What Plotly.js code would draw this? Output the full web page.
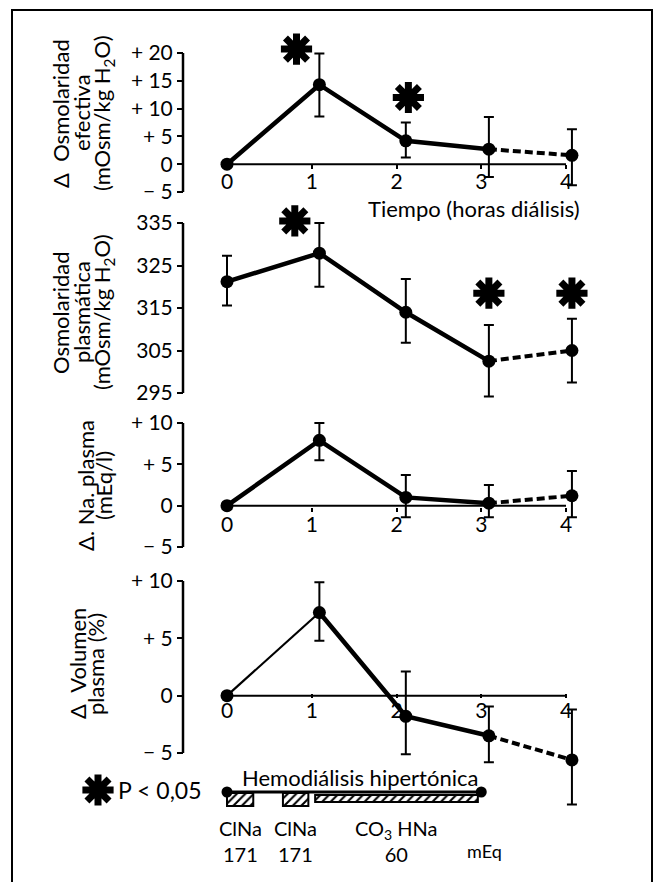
<!DOCTYPE html>
<html><head><meta charset="utf-8">
<script src="https://cdn.plot.ly/plotly-3.0.1.min.js"></script>
<style>html,body{margin:0;padding:0;background:#fff}</style>
</head><body><div id="chart" style="width:659px;height:882px"></div>
<script>
// ---------- data ----------
const hours = [0, 1.09, 2.11, 3.09, 4.07];          // plotted position of each sample (h)
const hourTicks = [0, 1, 2, 3, 4];
const hourTickText = ['0', '1', '2', '3', '4'];

const osmEf   = [0, 14.3, 4.2, 2.7, 1.6];
const osmEfHi = [0, 19.9, 7.5, 8.5, 6.3];
const osmEfLo = [0, 8.6, 1.2, -2.3, -3.8];
const osmEfStarX = [0.82, 2.14];
const osmEfStarY = [20.7, 12.0];
const osmEfTicks = [20, 15, 10, 5, 0, -5];
const osmEfTickText = ['+ 20', '+ 15', '+ 10', '+ 5', '0', '\u2212 5'];

const osmPl   = [321.2, 327.9, 314.0, 302.5, 305.0];
const osmPlHi = [327.3, 335.0, 321.8, 311.0, 312.5];
const osmPlLo = [315.6, 320.0, 306.8, 294.2, 297.5];
const osmPlStarX = [0.8, 3.09, 4.07];
const osmPlStarY = [335.5, 318.5, 318.5];
const osmPlTicks = [335, 325, 315, 305, 295];
const osmPlTickText = ['335', '325', '315', '305', '295'];

const naPl   = [0, 7.9, 1.0, 0.3, 1.2];
const naPlHi = [0, 10.0, 3.7, 2.5, 4.2];
const naPlLo = [0, 5.5, -1.4, -1.4, -1.4];
const naPlStarX = [1.07];
const naPlStarY = [12.4];
const naPlTicks = [10, 5, 0, -5];
const naPlTickText = ['+ 10', '+ 5', '0', '\u2212 5'];

const volPl   = [0, 7.25, -1.8, -3.5, -5.6];
const volPlHi = [0, 9.9, 2.1, -0.95, -1.2];
const volPlLo = [0, 4.8, -5.1, -5.8, -9.5];
const volPlStarX = [1.07];
const volPlStarY = [12.0];
const volPlTicks = [10, 5, 0, -5];
const volPlTickText = ['+ 10', '+ 5', '0', '\u2212 5'];

// hypertonic dialysis schedule (h)
const doseStart = [0, 0.66, 1.04];
const doseEnd   = [0.31, 0.96, 2.96];
const doseName  = ['ClNa', 'ClNa', 'CO<sub>3</sub> HNa'];
const doseAmount = ['171', '171', '60'];
const sessionHours = [0, 3];

// ---------- layout helpers ----------
const W = 659, H = 882, FONT = 'Lato, "Open Sans", sans-serif';
const px = v => v / W, py = v => 1 - v / H;
const X0PX = 227, XPU = 84.75;
const xr = (a, b) => [(a - X0PX) / XPU, (b - X0PX) / XPU];
function yAxisCfg(topV, topPx, botV, botPx, domTop, domBot, tv, tt) {
  const u = (botPx - topPx) / (topV - botV);
  return {
    domain: [py(domBot), py(domTop)],
    range: [botV - (domBot - botPx) / u, topV + (topPx - domTop) / u],
    anchor: 'free', position: px(183), side: 'left',
    tickvals: tv, ticktext: tt, ticks: 'outside', ticklen: 6, tickwidth: 2, tickcolor: '#000',
    showline: false, showgrid: false, zeroline: false,
    tickfont: {family: FONT, size: 21, color: '#000'}
  };
}
function xAxisCfg(zeroPx, show) {
  return {
    domain: [px(150), px(645)], range: xr(150, 645),
    anchor: 'free', position: py(zeroPx), visible: show,
    tickvals: hourTicks, ticktext: hourTickText, ticks: 'outside', ticklen: 4, tickwidth: 2, tickcolor: '#000',
    ticklabelstandoff: -5,
    showline: false, showgrid: false, zeroline: false,
    tickfont: {family: FONT, size: 21, color: '#000'}
  };
}

const panels = [
  {ax: '', v: osmEf, hi: osmEfHi, lo: osmEfLo, sx: osmEfStarX, sy: osmEfStarY, thin: false, tv: osmEfTicks},
  {ax: '2', v: osmPl, hi: osmPlHi, lo: osmPlLo, sx: osmPlStarX, sy: osmPlStarY, thin: false, tv: osmPlTicks},
  {ax: '3', v: naPl, hi: naPlHi, lo: naPlLo, sx: naPlStarX, sy: naPlStarY, thin: false, tv: naPlTicks},
  {ax: '4', v: volPl, hi: volPlHi, lo: volPlLo, sx: volPlStarX, sy: volPlStarY, thin: true, tv: volPlTicks}
];
const STAR = {symbol: 'asterisk-open', size: 26, color: '#000', line: {color: '#000', width: 7}};

const traces = [];
const shapes = [];
panels.forEach((p, i) => {
  const xa = 'x' + p.ax, ya = 'y' + p.ax;
  const first = p.thin ? 1 : 0;
  if (p.thin) traces.push({x: hours.slice(0, 2), y: p.v.slice(0, 2), xaxis: xa, yaxis: ya, mode: 'lines',
    line: {color: '#000', width: 2.2}, cliponaxis: false});
  traces.push({x: hours.slice(first, 4), y: p.v.slice(first, 4), xaxis: xa, yaxis: ya, mode: 'lines',
    line: {color: '#000', width: 4.5}, cliponaxis: false});
  traces.push({x: hours.slice(3, 5), y: p.v.slice(3, 5), xaxis: xa, yaxis: ya, mode: 'lines',
    line: {color: '#000', width: 4, dash: '8px,4px'}, cliponaxis: false});
  traces.push({x: hours, y: p.v, xaxis: xa, yaxis: ya, mode: 'markers', cliponaxis: false,
    marker: {color: '#000', size: 13},
    error_y: {type: 'data', symmetric: false, array: p.hi.map((h, k) => h - p.v[k]),
      arrayminus: p.lo.map((l, k) => p.v[k] - l), color: '#000', thickness: 2, width: 5}});
  traces.push({x: p.sx, y: p.sy, xaxis: xa, yaxis: ya, mode: 'markers', cliponaxis: false, marker: STAR});
  // y axis line spanning the tick range
  shapes.push({type: 'line', xref: 'paper', yref: ya, x0: px(183), x1: px(183),
    y0: Math.min(...p.tv), y1: Math.max(...p.tv), line: {color: '#000', width: 2.5}});
  if (i !== 1) shapes.push({type: 'line', xref: xa, yref: ya, x0: hourTicks[0], x1: hourTicks[hourTicks.length - 1],
    y0: 0, y1: 0, line: {color: '#000', width: 2}});
});

// schedule (bottom)
traces.push({x: sessionHours, y: [792, 792], xaxis: 'x5', yaxis: 'y5', mode: 'lines+markers', cliponaxis: false,
  line: {color: '#000', width: 3}, marker: {color: '#000', size: 11}});
traces.push({type: 'bar', orientation: 'h', base: doseStart, x: doseEnd.map((e, k) => e - doseStart[k]),
  y: [799.5, 799.5, 798.5], width: [13, 13, 7], xaxis: 'x5', yaxis: 'y5',
  marker: {color: '#fff', line: {color: '#000', width: 2},
    pattern: {shape: '/', fgcolor: '#000', bgcolor: '#fff', size: 6, solidity: 0.35}}});
traces.push({x: [(98 - X0PX) / XPU], y: [790], xaxis: 'x5', yaxis: 'y5', mode: 'markers', cliponaxis: false,
  marker: STAR});

shapes.push({type: 'rect', xref: 'paper', yref: 'paper', x0: px(12), x1: px(652), y0: -0.05, y1: py(10),
  line: {color: '#000', width: 2}, fillcolor: 'rgba(0,0,0,0)'});

const ann = [];
function addText(text, xPx, yPx, size, opts) {
  ann.push(Object.assign({text, xref: 'paper', yref: 'paper', x: px(xPx), y: py(yPx), showarrow: false,
    xanchor: 'center', yanchor: 'middle', font: {family: FONT, size: size, color: '#000'}}, opts || {}));
}
// axis titles (rotated)
addText('\u0394  Osmolaridad', 61, 113, 22, {textangle: -90});
addText('efectiva', 82, 113, 22, {textangle: -90});
addText('(mOsm/kg H<sub>2</sub>O)', 103, 113, 22, {textangle: -90});
addText('Osmolaridad', 61, 312, 22, {textangle: -90});
addText('plasmática', 82, 312, 22, {textangle: -90});
addText('(mOsm/kg H<sub>2</sub>O)', 103, 312, 22, {textangle: -90});
addText('\u0394. Na. plasma', 86, 486, 22, {textangle: -90});
addText('(mEq/l)', 104, 486, 22, {textangle: -90});
addText('\u0394  Volumen', 77, 664, 22, {textangle: -90});
addText('plasma (%)', 95, 664, 22, {textangle: -90});
addText('Tiempo (horas diálisis)', 366, 208, 22, {xanchor: 'left'});
addText('P < 0,05', 116, 790, 23, {xanchor: 'left'});
// schedule labels
ann.push({text: 'Hemodiálisis hipertónica', xref: 'x5', yref: 'y5', x: 1.57, y: 777, showarrow: false,
  font: {family: FONT, size: 22, color: '#000'}});
doseStart.forEach((s, k) => {
  const c = (s + doseEnd[k]) / 2;
  ann.push({text: doseName[k] + '<br>' + doseAmount[k], xref: 'x5', yref: 'y5', x: c, y: 841, showarrow: false,
    font: {family: FONT, size: 20, color: '#000'}});
});
ann.push({text: 'mEq', xref: 'x5', yref: 'y5', x: 3.04, y: 851, showarrow: false,
  font: {family: FONT, size: 18, color: '#000'}});

const layout = {
  width: W, height: H, margin: {l: 0, r: 0, t: 0, b: 0},
  paper_bgcolor: '#fff', plot_bgcolor: 'rgba(0,0,0,0)', showlegend: false, barmode: 'overlay',
  font: {family: FONT, size: 20, color: '#000'},
  xaxis: xAxisCfg(164, true),
  xaxis2: xAxisCfg(350, false),
  xaxis3: xAxisCfg(507, true),
  xaxis4: xAxisCfg(693, true),
  xaxis5: {domain: [px(40), px(645)], range: xr(40, 645), anchor: 'y5', visible: false},
  yaxis: yAxisCfg(20, 53, -5, 192, 40, 200, osmEfTicks, osmEfTickText),
  yaxis2: yAxisCfg(335, 223, 295, 393, 210, 400, osmPlTicks, osmPlTickText),
  yaxis3: yAxisCfg(10, 423, -5, 547, 410, 556, naPlTicks, naPlTickText),
  yaxis4: yAxisCfg(10, 581, -5, 753, 562, 812, volPlTicks, volPlTickText),
  yaxis5: {domain: [py(870), py(770)], range: [870, 770], anchor: 'x5', visible: false},
  shapes: shapes, annotations: ann
};
Plotly.newPlot('chart', traces, layout, {displayModeBar: false, staticPlot: true});
</script>
</body></html>
